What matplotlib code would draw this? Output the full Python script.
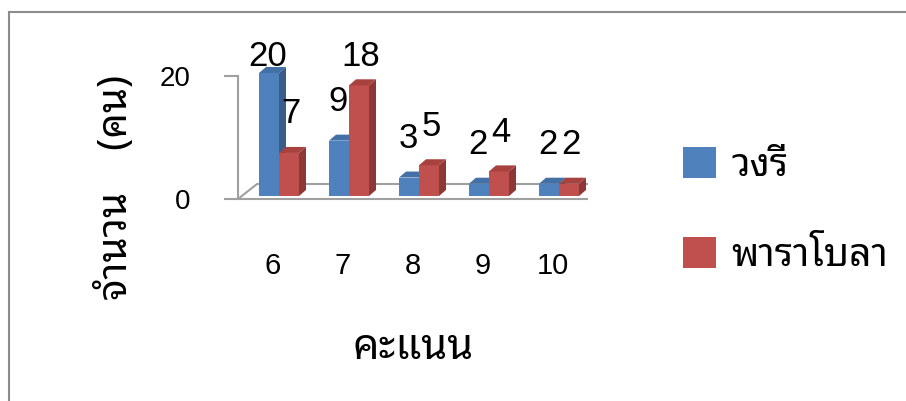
import matplotlib
matplotlib.use('Agg')
import matplotlib.pyplot as plt
from matplotlib import font_manager
from matplotlib.ft2font import FT2Font
from matplotlib.patches import Polygon, Rectangle

# data
categories = ['6', '7', '8', '9', '10']
series_names = ['วงรี', 'พาราโบลา']
wongree = [20, 9, 3, 2, 2]
parabola = [7, 18, 5, 4, 2]
y_ticks = [0, 20]
x_title = 'คะแนน'
y_title = 'จำนวน    (คน)'


def find_thai_fonts():
    found = []
    for f in font_manager.fontManager.ttflist:
        try:
            cmap = FT2Font(f.fname).get_charmap()
        except Exception:
            continue
        if 0x0E01 in cmap and 0x0E19 in cmap:
            found.append(f.name)
    return sorted(set(found))


thai_fonts = find_thai_fonts()
if 'Noto Sans Thai Looped' in thai_fonts:
    thai_first = ['Noto Sans Thai Looped']
else:
    thai_first = thai_fonts[:1]
thai_family = thai_first + ['Liberation Sans', 'DejaVu Sans']
plt.rcParams['font.family'] = ['Liberation Sans', 'DejaVu Sans']

W, H, DPI = 906, 401, 100
fig = plt.figure(figsize=(W / DPI, H / DPI), dpi=DPI)

# pixel geometry of the front plane
PX_X = 70.0      # pixels per category
PX_Y = 6.15      # pixels per value unit
x_zero_px = 279  # pixel of first group centre
y_zero_px = 199  # pixel of value 0 on the axis
ax_left, ax_right = 238, 588
ax_top, ax_bot = 40, 215

ax = fig.add_axes([ax_left / W, 1 - ax_bot / H, (ax_right - ax_left) / W, (ax_bot - ax_top) / H])
ax.set_xlim((ax_left - x_zero_px) / PX_X, (ax_right - x_zero_px) / PX_X)
ax.set_ylim((y_zero_px - ax_bot) / PX_Y, (y_zero_px - ax_top) / PX_Y)
ax.patch.set_alpha(0)

def dx(px):
    return px / PX_X

def dy(px):
    return px / PX_Y

grey = '#a0a0a0'

# floor
x0, x1 = ax.get_xlim()
floor = Polygon([(x0, 0), (x1, 0), (x1 + dx(17), dy(15)), (x0 + dx(19), dy(15))],
                closed=True, facecolor='white', edgecolor=grey, lw=1.5, zorder=1)
ax.add_patch(floor)

bw = 20 / PX_X
lift = dy(3)
depth_x, depth_y = dx(7), dy(6)
colors = {
    0: ('#4F81BD', '#385D8A', '#4371A6'),
    1: ('#C0504D', '#8C3836', '#A8423F'),
}
# small sideways nudge of the value labels (pixels), per series
label_nudge = {0: -1, 1: 2}

for s, vals in enumerate([wongree, parabola]):
    front, side, top = colors[s]
    xs = [i - bw + s * bw for i in range(len(categories))]
    ax.bar(xs, vals, width=bw, bottom=lift, align='edge', color=front,
           label=series_names[s], zorder=3 + s)
    for xl, v in zip(xs, vals):
        xr = xl + bw
        yt = v + lift
        ax.add_patch(Polygon([(xr, lift), (xr + depth_x, lift + depth_y),
                              (xr + depth_x, yt + depth_y), (xr, yt)],
                             closed=True, facecolor=side, edgecolor='none', zorder=3 + s))
        ax.add_patch(Polygon([(xl, yt), (xr, yt), (xr + depth_x, yt + depth_y),
                              (xl + depth_x, yt + depth_y)],
                             closed=True, facecolor=top, edgecolor='none', zorder=3 + s))
        ly = min(v + dy(42), dy(199 - 57))
        ax.text(xl + bw / 2 + dx(label_nudge[s]), ly, str(v), ha='center', va='center',
                fontsize=25, zorder=10)

# axes
for sp in ['top', 'right', 'bottom']:
    ax.spines[sp].set_visible(False)
ax.spines['left'].set_bounds(0, 20)
ax.spines['left'].set_color(grey)
ax.spines['left'].set_linewidth(1.5)
ax.set_yticks(y_ticks)
ax.tick_params(axis='y', length=10, width=1.5, color=grey, pad=24, labelsize=20)
ax.set_xticks([i - dx(6) for i in range(len(categories))])
ax.set_xticklabels(categories)
ax.tick_params(axis='x', length=0, pad=27, labelsize=21)

fig.text(117 / W, 1 - 187 / H, y_title, rotation=90, ha='center', va='center',
         fontsize=29, fontweight='bold', family=thai_family)
fig.text(413 / W, 1 - 348 / H, x_title, ha='center', va='center',
         fontsize=30, fontweight='bold', family=thai_family)

# legend
leg = fig.legend(handles=[ax.containers[0].patches[0], ax.containers[1].patches[0]],
                 labels=series_names, loc='center left', bbox_to_anchor=(683 / W, 1 - 211 / H),
                 frameon=False, prop={'family': thai_family, 'size': 28},
                 handlelength=0.85, handleheight=0.85, labelspacing=1.35, handletextpad=0.4,
                 borderpad=0, borderaxespad=0)

# outer frame
fig.add_artist(Rectangle((9 / W, -0.1), 1.1, 1 - 12 / H + 0.1, transform=fig.transFigure,
                         fill=False, edgecolor='#8c8c8c', lw=1.5))

fig.savefig('out.png', dpi=DPI)
